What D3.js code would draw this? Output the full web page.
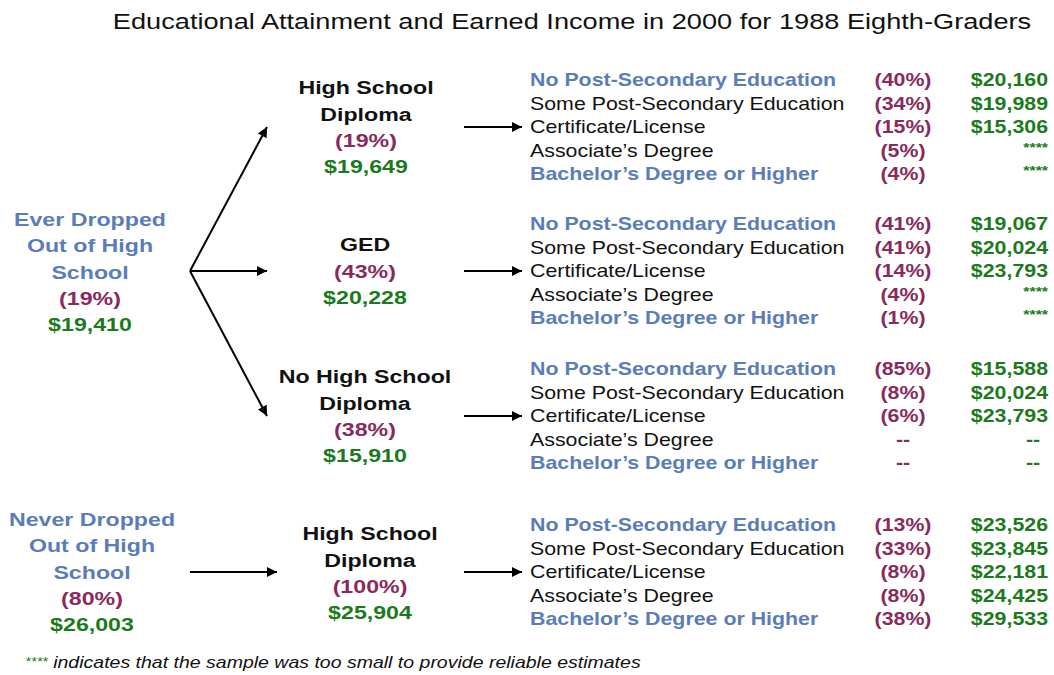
<!DOCTYPE html>
<html>
<head>
<meta charset="utf-8">
<script src="https://cdn.jsdelivr.net/npm/d3@7"></script>
<style>
  body { margin: 0; background: #fff; }
  svg { display: block; font-family: "Liberation Sans", Arial, Helvetica, sans-serif; }
</style>
</head>
<body>
<svg id="chart" width="1054" height="675"></svg>
<script>
// data
const title = "Educational Attainment and Earned Income in 2000 for 1988 Eighth-Graders"
const outcomes = ["No Post-Secondary Education", "Some Post-Secondary Education", "Certificate/License", "Associate\u2019s Degree", "Bachelor\u2019s Degree or Higher"]
const rootLabels = [["Ever Dropped", "Out of High", "School"], ["Never Dropped", "Out of High", "School"]]
const rootPct = ["(19%)", "(80%)"]
const rootIncome = ["$19,410", "$26,003"]
const nodeLabels = [["High School", "Diploma"], ["GED"], ["No High School", "Diploma"], ["High School", "Diploma"]]
const nodePct = ["(19%)", "(43%)", "(38%)", "(100%)"]
const nodeIncome = ["$19,649", "$20,228", "$15,910", "$25,904"]
const groupPct = [
  ["(40%)", "(34%)", "(15%)", "(5%)", "(4%)"],
  ["(41%)", "(41%)", "(14%)", "(4%)", "(1%)"],
  ["(85%)", "(8%)", "(6%)", "--", "--"],
  ["(13%)", "(33%)", "(8%)", "(8%)", "(38%)"]
]
const groupIncome = [
  ["$20,160", "$19,989", "$15,306", "****", "****"],
  ["$19,067", "$20,024", "$23,793", "****", "****"],
  ["$15,588", "$20,024", "$23,793", "--", "--"],
  ["$23,526", "$23,845", "$22,181", "$24,425", "$29,533"]
]
const footStar = "****"
const footText = " indicates that the sample was too small to provide reliable estimates"

const blue = "#5a7db9", maroon = "#8a2a5c", green = "#1b7a1b"
const sx = 1.22 // the original face is wider than Liberation Sans

const svg = d3.select("#chart")
const defs = svg.append("defs")
defs.append("marker")
  .attr("id", "arrow")
  .attr("viewBox", "0 0 10 10")
  .attr("refX", 10).attr("refY", 5)
  .attr("markerWidth", 11).attr("markerHeight", 10)
  .attr("markerUnits", "userSpaceOnUse")
  .attr("orient", "auto")
  .append("path")
  .attr("d", "M0,0L10,5L0,10Z")
  .attr("fill", "#000")

const place = (x, y, s = sx) => `translate(${x},${y}) scale(${s},1)`

svg.append("text")
  .attr("transform", place(572, 29, 1.235))
  .attr("text-anchor", "middle")
  .attr("font-size", 22)
  .attr("fill", "#111")
  .text(title)

// vertical scale for the group anchors (y of the "Certificate" row)
const groupY = d3.scaleOrdinal().domain([0, 1, 2, 3]).range([127, 271, 416, 572])
const rowY = d3.scaleLinear().domain([0, 4]).range([-47, 47])
const lineStep = 26.3

// one stacked text block: label lines + pct + income
const block = (x, yCenter, lines, pct, income, labelColor, size) => {
  const all = lines.map(t => ({ t, c: labelColor }))
    .concat([{ t: pct, c: maroon }, { t: income, c: green }])
  const y0 = yCenter - (all.length - 1) * lineStep / 2
  const g = svg.append("g")
  g.selectAll("text").data(all).join("text")
    .attr("transform", (d, i) => place(x, y0 + i * lineStep))
    .attr("dy", "0.35em")
    .attr("text-anchor", "middle")
    .attr("font-size", size)
    .attr("font-weight", "bold")
    .attr("fill", d => d.c)
    .text(d => d.t)
}

const arrow = (x1, y1, x2, y2) => {
  svg.append("line")
    .attr("x1", x1).attr("y1", y1).attr("x2", x2).attr("y2", y2)
    .attr("stroke", "#000").attr("stroke-width", 2)
    .attr("marker-end", "url(#arrow)")
}

// roots
block(90, 272, rootLabels[0], rootPct[0], rootIncome[0], blue, 19)
block(92, 572, rootLabels[1], rootPct[1], rootIncome[1], blue, 19)

// branch arrows
arrow(190, groupY(1), 267, groupY(0))
arrow(190, groupY(1), 267, groupY(1))
arrow(190, groupY(1), 267, groupY(2))
arrow(190, groupY(3), 277, groupY(3))

// middle nodes
const nodeX = [366, 365, 365, 370]
const nodeYc = [127, 271, 416, 573]
nodeLabels.forEach((lbl, i) => {
  block(nodeX[i], nodeYc[i], lbl, nodePct[i], nodeIncome[i], "#111", 19)
  arrow(464, groupY(i), 522, groupY(i))
})

// outcome lists
groupPct.forEach((pcts, gi) => {
  const g = svg.append("g").attr("transform", `translate(0,${groupY(gi)})`)
  const rows = g.selectAll("g").data(outcomes).join("g")
    .attr("transform", (d, i) => `translate(0,${rowY(i)})`)
  const hi = i => i === 0 || i === 4
  rows.append("text")
    .attr("transform", place(530, 0))
    .attr("dy", "0.35em")
    .attr("font-size", 17.5)
    .attr("font-weight", (d, i) => hi(i) ? "bold" : "normal")
    .attr("fill", (d, i) => hi(i) ? blue : "#111")
    .text(d => d)
  rows.append("text")
    .attr("transform", place(903, 0))
    .attr("dy", "0.35em")
    .attr("text-anchor", "middle")
    .attr("font-size", 17.5).attr("font-weight", "bold")
    .attr("fill", maroon)
    .text((d, i) => pcts[i])
  rows.append("text")
    .attr("transform", (d, i) => place(groupIncome[gi][i] === "--" ? 1033 : 1048, 0))
    .attr("dy", (d, i) => groupIncome[gi][i] === "****" ? "0.1em" : "0.35em")
    .attr("text-anchor", (d, i) => groupIncome[gi][i] === "--" ? "middle" : "end")
    .attr("font-size", (d, i) => groupIncome[gi][i] === "****" ? 13 : 17.5)
    .attr("font-weight", "bold")
    .attr("fill", green)
    .text((d, i) => groupIncome[gi][i])
})

// footnote
const foot = svg.append("text")
  .attr("transform", place(25, 668))
  .attr("font-size", 16).attr("font-style", "italic")
foot.append("tspan").attr("fill", green).attr("font-size", 12).attr("dy", "-2").text(footStar)
foot.append("tspan").attr("fill", "#111").attr("dy", "2").text(footText)
</script>
</body>
</html>
